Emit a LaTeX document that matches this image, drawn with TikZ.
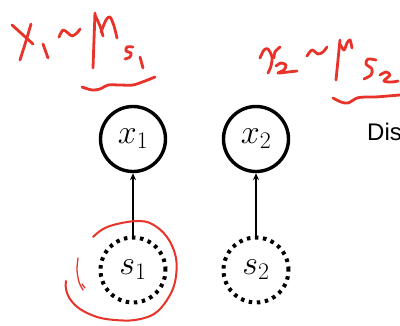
\RequirePackage{fix-cm}
\documentclass[tikz,border=0pt]{standalone}
\usepackage{fontspec}
\newfontfamily\labelsans{Liberation Sans}
\usetikzlibrary{arrows.meta}
\definecolor{inkred}{HTML}{E8332A}
\tikzset{
  varsolid/.style={circle, draw=black, line width=3.4pt, minimum size=65pt, inner sep=0pt, font=\fontsize{34}{40}\selectfont},
  vardotted/.style={circle, draw=black, line width=4pt, dash pattern=on 3.5pt off 4.6pt, minimum size=65pt, inner sep=0pt, font=\fontsize{34}{40}\selectfont},
  link/.style={line width=1.4pt, -{Stealth[length=7pt,width=6pt]}},
  ink/.style={draw=inkred, line width=2.8pt, line cap=round, line join=round}
}
\begin{document}
\begin{tikzpicture}[x=1pt,y=-1pt]
\useasboundingbox (0,0) rectangle (400,325);
\clip (0,0) rectangle (400,325);
% nodes
\node[varsolid] (x1) at (133,139) {$x_1$};
\node[varsolid] (x2) at (256,139) {$x_2$};
\node[vardotted] (s1) at (133,270) {$s_1$};
\node[vardotted] (s2) at (256,270) {$s_2$};
\draw[link] (s1) -- (x1);
\draw[link] (s2) -- (x2);
\node[anchor=base west, inner sep=0pt, font=\labelsans\fontsize{24}{28}\selectfont] (dis) at (367,140) {Dis};
% red annotations: X1 ~ mu_s1
\draw[ink] plot[smooth] coordinates {(12,25) (22,34) (33,44)};
\draw[ink] plot[smooth] coordinates {(31,24) (26,41) (20,60)};
\draw[ink] (43,44) -- (48,58);
\draw[ink] plot[smooth] coordinates {(59,37) (63,30) (68,33) (72,36) (77,33) (80,29)};
\draw[ink] plot[smooth] coordinates {(93,68) (94,40) (95,13)};
\draw[ink] plot[smooth] coordinates {(95,15) (100,26) (103,36)};
\draw[ink] plot[smooth] coordinates {(101,32) (106,20) (110,17) (114,26) (117,38)};
\draw[ink] plot[smooth] coordinates {(133,47) (127,47) (126,51) (131,53) (130,57) (125,59)};
\draw[ink] (140,57) -- (143,68);
\draw[ink] plot[smooth] coordinates {(82,87) (92,90) (100,89) (108,85) (120,85) (133,85) (145,81) (155,77)};
% red annotations: x2 ~ mu_s2
\draw[ink] plot[smooth] coordinates {(260,58) (264,50) (268,49) (272,57) (271,66) (268,73)};
\draw[ink] plot[smooth] coordinates {(280,47) (275,52) (274,58)};
\draw[ink] plot[smooth] coordinates {(276,66) (281,63) (286,65) (284,70) (278,73) (288,72) (297,71)};
\draw[ink] plot[smooth] coordinates {(307,56) (312,50) (318,54) (323,52) (327,47)};
\draw[ink] plot[smooth] coordinates {(336,80) (338,60) (340,40)};
\draw[ink] plot[smooth] coordinates {(340,44) (344,50) (347,43) (350,40) (352,48)};
\draw[ink] plot[smooth] coordinates {(376,60) (368,59) (366,64) (372,69) (371,75) (364,79)};
\draw[ink] plot[smooth] coordinates {(380,75) (386,72) (390,75) (384,81) (392,82) (398,81)};
\draw[ink] plot[smooth] coordinates {(333,98) (341,102) (348,103) (357,98) (366,97) (375,97) (388,96) (400,95)};
% red circle around s1
\draw[ink, line width=2pt] plot[smooth, tension=0.6] coordinates {(93,237) (103,229) (117,224) (137,221) (152,224) (167,237) (176,258) (175,282) (167,300) (154,314) (135,320) (115,320) (97,317) (80,309) (70,299) (66,289) (66,281)};
\draw[ink, line width=1.3pt] plot[smooth] coordinates {(78,258) (77,270) (79,282) (83,290)};
\draw[ink, line width=1.3pt] (82,284) -- (85,288);
\end{tikzpicture}
\end{document}
